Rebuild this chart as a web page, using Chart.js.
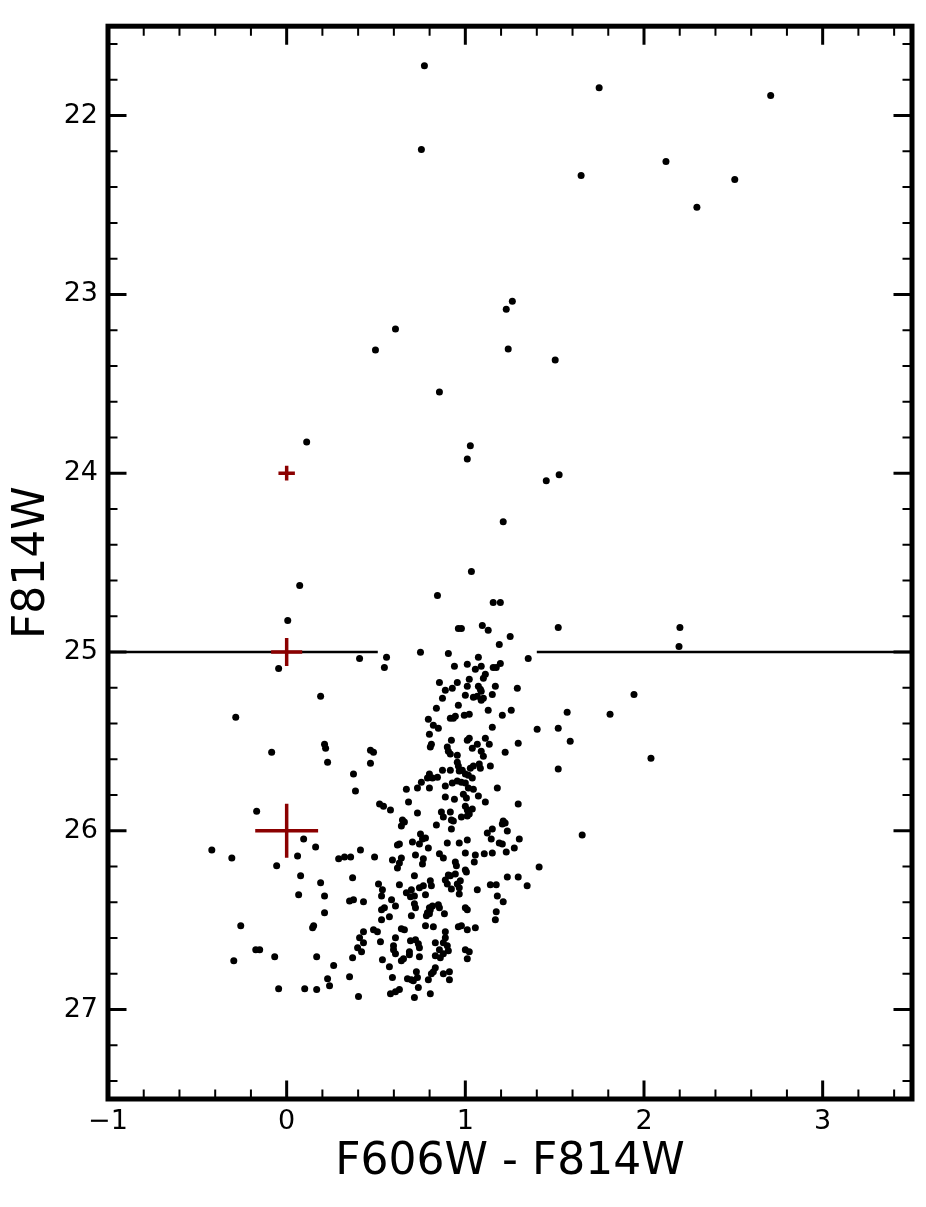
<!DOCTYPE html>
<html><head><meta charset="utf-8">
<script src="https://cdn.jsdelivr.net/npm/chart.js@4.4.1/dist/chart.umd.min.js"></script>
<style>html,body{margin:0;padding:0;background:#fff}#wrap{width:926px;height:1207px}</style>
</head><body><div id="wrap"><canvas id="c" width="926" height="1207"></canvas></div>
<script>
// F606W - F814W colour of each star
const colorVals = [
0.771,1.749,2.709,0.754,2.123,1.648,2.508,2.296,1.263,1.229,
0.609,0.497,1.240,1.503,0.855,0.112,1.028,1.011,1.525,1.453,
1.212,1.034,0.073,0.844,1.156,1.196,0.006,0.961,0.978,1.095,
1.128,1.251,1.520,1.190,2.201,2.196,0.408,0.559,0.547,0.749,
0.905,1.073,1.011,0.939,1.056,1.089,1.156,1.173,1.196,1.352,
-0.045,1.112,1.101,1.022,0.855,0.955,0.888,0.927,1.011,1.073,
1.084,1.089,1.168,1.291,1.000,1.045,1.067,1.101,1.089,1.151,
0.872,0.961,0.838,1.128,1.257,1.207,0.793,0.916,0.933,0.944,
0.994,1.022,0.821,0.849,1.151,1.402,1.520,1.944,1.570,1.810,
1.587,2.039,1.520,1.654,0.190,-0.285,-0.084,0.212,0.218,0.229,
0.799,0.922,1.022,1.011,1.067,1.112,1.134,1.296,0.810,0.804,
0.899,0.905,0.916,0.955,1.039,1.089,1.101,1.223,0.469,0.486,
0.469,0.955,0.961,1.028,1.045,1.078,1.084,1.140,0.872,0.916,
0.966,0.983,1.000,1.017,1.039,0.374,0.799,0.788,0.816,0.844,
0.754,0.732,0.799,0.927,0.955,0.978,1.000,1.017,1.045,0.670,
0.888,0.385,0.989,1.006,1.073,1.179,0.888,0.939,1.112,0.682,
1.296,0.520,0.542,0.581,1.000,1.011,1.039,0.732,0.866,0.877,
0.916,0.922,0.933,0.978,1.011,1.022,0.648,0.659,0.642,0.838,
0.922,1.212,1.223,1.207,1.151,1.123,1.235,0.749,0.760,0.777,
0.704,0.743,0.620,0.631,0.793,0.899,0.966,1.011,1.145,1.190,
1.207,1.302,1.274,1.229,0.413,0.324,0.358,0.492,0.642,0.631,
0.620,0.592,0.721,0.765,0.760,0.855,0.877,0.944,0.950,1.000,
1.056,1.050,1.106,1.151,1.413,1.000,0.369,0.715,0.514,0.536,
0.531,0.631,0.670,0.698,0.715,0.693,0.743,0.765,0.804,0.810,
0.777,0.905,0.888,0.916,0.944,0.972,0.955,0.922,0.966,0.966,
1.006,0.899,1.067,1.140,1.173,1.179,1.212,1.235,1.296,1.346,
0.352,0.374,0.430,0.587,0.609,0.547,0.531,0.575,0.531,0.715,
0.721,0.698,0.799,0.816,0.849,0.855,0.788,0.804,0.782,0.799,
0.883,1.000,1.011,1.173,1.168,0.486,0.508,0.430,0.408,0.430,
0.397,0.419,0.369,0.525,0.642,0.659,0.609,0.598,0.609,0.598,
0.693,0.721,0.737,0.743,0.687,0.687,0.642,0.654,0.743,0.536,
0.575,0.777,0.821,0.888,0.888,0.877,0.899,0.905,0.832,0.855,
0.832,0.860,0.877,0.961,0.978,1.011,1.056,1.000,1.022,1.011,
0.832,0.821,0.810,0.726,0.732,0.676,0.698,0.709,0.793,0.877,
0.911,0.911,0.352,0.592,0.737,0.715,0.804,0.581,0.609,0.631,0.402,
-0.168,0.095,0.162,-0.419,-0.307,0.061,-0.056,0.291,
0.078,0.190,0.067,0.212,0.212,-0.257,0.145,0.151,-0.173,-0.151,
-0.296,-0.067,0.168,0.263,0.229,0.240,-0.045,0.101,0.168
];
// F814W magnitude of each star
const magVals = [
21.721,21.844,21.888,22.190,22.257,22.335,22.357,22.513,23.038,23.083,
23.194,23.311,23.306,23.367,23.546,23.825,23.847,23.920,24.009,24.042,
24.271,24.550,24.628,24.684,24.723,24.723,24.824,24.868,24.868,24.852,
24.879,24.913,24.863,24.958,24.863,24.969,25.036,25.030,25.086,25.002,
25.008,25.030,25.069,25.080,25.097,25.080,25.086,25.086,25.064,25.036,
25.092,25.125,25.147,25.153,25.170,25.170,25.214,25.203,25.192,25.192,
25.209,25.220,25.192,25.203,25.242,25.253,25.248,25.259,25.270,25.237,
25.259,25.298,25.315,25.326,25.326,25.354,25.376,25.371,25.371,25.359,
25.354,25.348,25.410,25.426,25.421,25.432,25.426,25.237,25.337,25.348,
25.499,25.594,25.655,26.023,25.248,25.365,25.560,25.516,25.538,25.616,
25.460,25.493,25.482,25.493,25.516,25.482,25.516,25.510,25.516,25.532,
25.532,25.555,25.571,25.577,25.538,25.555,25.583,25.560,25.549,25.560,
25.622,25.616,25.638,25.650,25.638,25.627,25.650,25.638,25.661,25.661,
25.666,25.661,25.683,25.689,25.705,25.683,25.683,25.705,25.705,25.700,
25.728,25.761,25.761,25.733,25.722,25.728,25.733,25.761,25.767,25.767,
25.750,25.778,25.795,25.817,25.806,25.761,25.811,25.823,25.839,25.839,
25.850,25.850,25.862,25.884,25.862,25.884,25.878,25.901,25.895,25.923,
25.895,25.940,25.945,25.923,25.917,25.906,25.940,25.951,25.973,25.968,
25.990,25.945,25.956,25.962,25.990,26.012,26.001,26.018,26.046,26.040,
26.062,26.074,26.079,26.074,26.096,26.068,26.068,26.051,26.046,26.068,
26.074,26.046,26.096,26.118,26.107,26.146,26.146,26.146,26.152,26.180,
26.208,26.163,26.135,26.157,26.185,26.129,26.152,26.174,26.196,26.124,
26.135,26.174,26.129,26.124,26.202,26.219,26.263,26.252,26.297,26.330,
26.364,26.302,26.347,26.330,26.364,26.369,26.319,26.308,26.280,26.308,
26.358,26.247,26.275,26.252,26.241,26.280,26.297,26.325,26.319,26.353,
26.230,26.297,26.330,26.302,26.302,26.364,26.397,26.258,26.258,26.308,
26.392,26.386,26.397,26.386,26.420,26.431,26.442,26.481,26.498,26.408,
26.431,26.475,26.431,26.420,26.414,26.431,26.459,26.442,26.475,26.464,
26.464,26.431,26.442,26.453,26.498,26.554,26.565,26.565,26.598,26.626,
26.654,26.676,26.710,26.621,26.548,26.554,26.598,26.643,26.688,26.665,
26.615,26.609,26.632,26.654,26.676,26.693,26.727,26.715,26.704,26.721,
26.760,26.531,26.537,26.565,26.598,26.626,26.643,26.671,26.626,26.665,
26.699,26.710,26.688,26.537,26.531,26.554,26.542,26.665,26.676,26.715,
26.766,26.788,26.799,26.788,26.821,26.827,26.833,26.838,26.833,26.799,
26.788,26.833,26.816,26.821,26.877,26.933,26.911,26.911,26.900,26.888,26.927,
25.890,26.046,26.090,26.107,26.152,26.141,26.196,26.157,
26.252,26.291,26.358,26.364,26.459,26.531,26.542,26.531,26.665,26.665,
26.727,26.704,26.704,26.754,26.827,26.866,26.883,26.883,26.888
];
// typical photometric errors at three magnitudes
const errMags = [24, 25, 26];
const errColorSize = [0.046, 0.087, 0.176];
const errMagSize = [0.041, 0.078, 0.151];
const errCenterColor = 0;
// magnitude cut line (two segments)
const cutMag = 25;
const cutSegStart = [-1, 1.40];
const cutSegEnd = [0.51, 3.5];
// axes
const xLimits = [-1, 3.5];
const yLimits = [21.5, 27.5];
const xTickVals = [-1, 0, 1, 2, 3];
const xTickLabels = ['\u22121', '0', '1', '2', '3'];
const yTickVals = [22, 23, 24, 25, 26, 27];
const yTickLabels = ['22', '23', '24', '25', '26', '27'];
const minorStep = 0.2;

if (colorVals.length !== magVals.length) console.error('length mismatch', colorVals.length, magVals.length);

const FONT = 'DejaVu Sans';
const datasets = [];
datasets.push({
  label: 'stars',
  data: colorVals.map((c, i) => ({x: c, y: magVals[i]})),
  pointRadius: 3.5, pointHoverRadius: 3.5,
  backgroundColor: '#000', borderWidth: 0, showLine: false, order: 1
});
cutSegStart.forEach((s, i) => {
  datasets.push({
    label: 'cut' + i,
    data: [{x: s, y: cutMag}, {x: cutSegEnd[i], y: cutMag}],
    showLine: true, pointRadius: 0, borderColor: '#000', borderWidth: 2.5, order: 2
  });
});
errMags.forEach((m, i) => {
  datasets.push({
    label: 'errx' + i,
    data: [{x: errCenterColor - errColorSize[i], y: m}, {x: errCenterColor + errColorSize[i], y: m}],
    showLine: true, pointRadius: 0, borderColor: '#8b0000', borderWidth: 3.5, borderCapStyle: 'butt', order: 0
  });
  datasets.push({
    label: 'erry' + i,
    data: [{x: errCenterColor, y: m - errMagSize[i]}, {x: errCenterColor, y: m + errMagSize[i]}],
    showLine: true, pointRadius: 0, borderColor: '#8b0000', borderWidth: 3.5, borderCapStyle: 'butt', order: 0
  });
});

const framePlugin = {
  id: 'frame',
  afterDraw(chart) {
    const {ctx, chartArea: a, scales: {x, y}} = chart;
    ctx.save();
    ctx.strokeStyle = '#000';
    ctx.lineCap = 'butt';
    const near = (v, arr) => arr.some(t => Math.abs(t - v) < 1e-6);
    const tickX = (v, len, w) => {
      const px = x.getPixelForValue(v);
      ctx.lineWidth = w; ctx.beginPath();
      ctx.moveTo(px, a.bottom); ctx.lineTo(px, a.bottom - len);
      ctx.moveTo(px, a.top); ctx.lineTo(px, a.top + len);
      ctx.stroke();
    };
    const tickY = (v, len, w) => {
      const py = y.getPixelForValue(v);
      ctx.lineWidth = w; ctx.beginPath();
      ctx.moveTo(a.left, py); ctx.lineTo(a.left + len, py);
      ctx.moveTo(a.right, py); ctx.lineTo(a.right - len, py);
      ctx.stroke();
    };
    const nx = Math.round((xLimits[1] - xLimits[0]) / minorStep);
    for (let k = 1; k < nx; k++) {
      const v = xLimits[0] + k * minorStep;
      if (!near(v, xTickVals)) tickX(v, 9.5, 2);
    }
    const ny0 = Math.ceil(yLimits[0] / minorStep - 1e-6);
    const ny1 = Math.floor(yLimits[1] / minorStep + 1e-6);
    for (let k = ny0; k <= ny1; k++) {
      const v = k * minorStep;
      if (v <= yLimits[0] + 1e-6 || v >= yLimits[1] - 1e-6) continue;
      if (!near(v, yTickVals)) tickY(v, 9.5, 2);
    }
    xTickVals.forEach(v => { if (v > xLimits[0] && v < xLimits[1]) tickX(v, 18.5, 3); });
    yTickVals.forEach(v => tickY(v, 18.5, 3));
    ctx.lineWidth = 5;
    ctx.strokeRect(a.left, a.top, a.right - a.left, a.bottom - a.top);
    ctx.restore();
  }
};

new Chart(document.getElementById('c'), {
  type: 'scatter',
  data: {datasets},
  options: {
    responsive: false, animation: false, devicePixelRatio: 1,
    layout: {padding: {top: 23, right: 14, left: 0, bottom: 0}},
    plugins: {legend: {display: false}, tooltip: {enabled: false}},
    scales: {
      x: {
        type: 'linear', position: 'bottom', min: xLimits[0], max: xLimits[1],
        afterBuildTicks: s => { s.ticks = xTickVals.map(v => ({value: v})); },
        afterFit: s => { s.height = 108; },
        ticks: {
          callback: v => { const i = xTickVals.indexOf(v); return i >= 0 ? xTickLabels[i] : ''; },
          font: {family: FONT, size: 27}, color: '#000', padding: 7, maxRotation: 0, autoSkip: false
        },
        grid: {display: false, drawTicks: false, tickLength: 0},
        border: {display: false},
        title: {display: true, text: 'F606W - F814W', font: {family: FONT, size: 44}, color: '#000', padding: {top: 0, bottom: 18}}
      },
      y: {
        type: 'linear', position: 'left', reverse: true, min: yLimits[0], max: yLimits[1],
        afterBuildTicks: s => { s.ticks = yTickVals.map(v => ({value: v})); },
        afterFit: s => { s.width = 108; },
        ticks: {
          callback: v => { const i = yTickVals.indexOf(v); return i >= 0 ? yTickLabels[i] : ''; },
          font: {family: FONT, size: 27}, color: '#000', padding: 10, autoSkip: false
        },
        grid: {display: false, drawTicks: false, tickLength: 0},
        border: {display: false},
        title: {display: true, text: 'F814W', font: {family: FONT, size: 44}, color: '#000', padding: {top: 6, bottom: 0}}
      }
    }
  },
  plugins: [framePlugin]
});
</script>
</body></html>
